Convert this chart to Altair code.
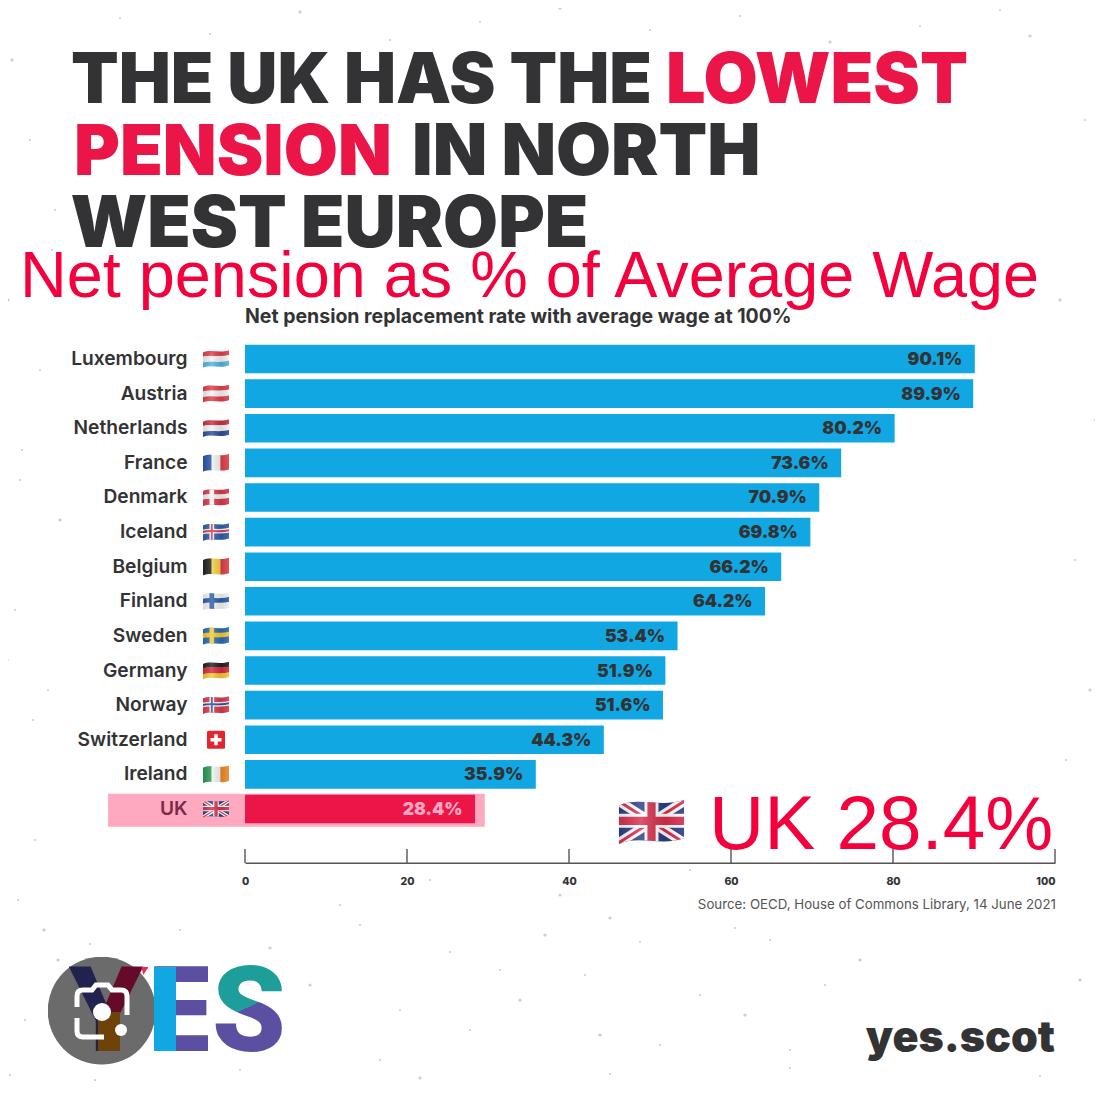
import base64
import altair as alt
import pandas as pd

countries = ["Luxembourg", "Austria", "Netherlands", "France", "Denmark", "Iceland", "Belgium",
             "Finland", "Sweden", "Germany", "Norway", "Switzerland", "Ireland", "UK"]
values = [90.1, 89.9, 80.2, 73.6, 70.9, 69.8, 66.2, 64.2, 53.4, 51.9, 51.6, 44.3, 35.9, 28.4]
x_ticks = [0, 20, 40, 60, 80, 100]
highlight_start = [-16.9]
highlight_end = [29.6]
speckle_x = [12, 30, 55, 8, 40, 22, 60, 15, 48, 5, 35, 18, 58, 25, 10, 44, 20, 52, 7, 33,
             95, 160, 240, 330, 420, 520, 610, 700, 790, 880, 960, 1040, 1085, 1060, 1095, 1075, 1090, 1066, 1098, 1080,
             120, 210, 300, 390, 480, 560, 650, 740, 830, 920, 1000, 1030, 90, 180, 270, 360, 450, 545, 640, 735,
             310, 400, 500, 600, 700, 790, 860, 380, 470, 520, 585, 660, 745, 825, 430, 560, 690, 340, 610, 770]
speckle_y = [60, 140, 210, 300, 370, 450, 520, 610, 690, 770, 840, 900, 960, 1020, 1075, 930, 480, 250, 660, 720,
             1080, 1088, 1070, 1084, 1078, 1090, 1074, 1086, 1068, 1082, 1092, 1076, 120, 300, 420, 560, 690, 760, 880, 980,
             18, 34, 12, 40, 22, 8, 30, 16, 42, 26, 10, 36, 944, 930, 948, 925, 952, 935, 942, 928,
             985, 1010, 970, 1035, 995, 1050, 960, 1060, 1030, 1000, 975, 1045, 1015, 985, 880, 895, 870, 905, 918, 940]

DARK = "#333336"
RED = "#ec1548"
BRIGHT = "#f4003c"
BLUE = "#10a7e2"
PINK = "#ffa9c1"
HEAD = "Inter"
BODY = "Inter"
OX, OY = 245.0, 341.7
W, H = 810, 484.6


def wave(y):
    return f"M-2,{y+3} C16,{y-5} 36,{y+5} 62,{y-3}"


SHADE = ('<defs><clipPath id="c"><path d="M2,7 C18,-1 38,9 58,2 L58,35 C38,42 18,32 2,40 Z"/></clipPath>'
         '<linearGradient id="g" x1="0" x2="1" y1="0" y2="0">'
         '<stop offset="0" stop-color="#000" stop-opacity=".12"/><stop offset=".35" stop-color="#fff" stop-opacity=".18"/>'
         '<stop offset=".7" stop-color="#000" stop-opacity=".10"/><stop offset="1" stop-color="#fff" stop-opacity=".12"/>'
         '</linearGradient></defs>')


def raw(s):
    return "data:image/svg+xml;base64," + base64.b64encode(s.encode()).decode()


def svg(body):
    return raw(f'<svg xmlns="http://www.w3.org/2000/svg" viewBox="0 0 60 42" width="240" height="168">{SHADE}'
               f'<g clip-path="url(#c)">{body}<rect width="60" height="42" fill="url(#g)"/></g></svg>')


def hflag(*cols):
    h = 38 / len(cols)
    return svg("".join(f'<path d="{wave(2 + h * (i + .5))}" fill="none" stroke="{c}" stroke-width="{h + .6}"/>'
                       for i, c in enumerate(cols)))


def vflag(*cols):
    w = 56 / len(cols)
    return svg("".join(f'<rect x="{2 + w * i}" y="0" width="{w + .3}" height="42" fill="{c}"/>'
                       for i, c in enumerate(cols)))


def nordic(bg, cross, inner=None):
    b = f'<rect width="60" height="42" fill="{bg}"/><rect x="16" width="10" height="42" fill="{cross}"/>'
    b += f'<path d="{wave(19)}" fill="none" stroke="{cross}" stroke-width="10"/>'
    if inner:
        b += f'<rect x="19" width="4" height="42" fill="{inner}"/><path d="{wave(19)}" fill="none" stroke="{inner}" stroke-width="4"/>'
    return svg(b)


UNION = svg('<rect width="60" height="42" fill="#2a3f86"/>'
            '<path d="M0,2 L60,40 M60,2 L0,40" stroke="#fff" stroke-width="8"/>'
            '<path d="M0,2 L60,40 M60,2 L0,40" stroke="#d8304f" stroke-width="2.6"/>'
            '<path d="M30,0 V42 M0,20 H60" stroke="#fff" stroke-width="12"/>'
            '<path d="M30,0 V42 M0,20 H60" stroke="#d8304f" stroke-width="7"/>')
SWISS = raw('<svg xmlns="http://www.w3.org/2000/svg" viewBox="0 0 40 40" width="160" height="160">'
            '<rect x="2" y="2" width="36" height="36" rx="3" fill="#e2262f"/>'
            '<path d="M20,9 V31 M9,20 H31" stroke="#fff" stroke-width="7"/></svg>')

flags = [hflag("#e0404a", "#f4f4f4", "#54b4e4"), hflag("#e0404a", "#f4f4f4", "#e0404a"),
         hflag("#c8323f", "#f4f4f4", "#2f4f9c"), vflag("#2a55a8", "#f4f4f4", "#e0404a"),
         nordic("#d83a4c", "#f4f4f4"), nordic("#2f5ea8", "#f4f4f4", "#d83a4c"),
         vflag("#222222", "#f6d040", "#e0404a"), nordic("#f4f4f4", "#2f5ea8"),
         nordic("#2a6cb0", "#f5c935"), hflag("#222222", "#d8283c", "#f6c830"),
         nordic("#d83a4c", "#f4f4f4", "#2f4f9c"), SWISS,
         vflag("#2a9a55", "#f4f4f4", "#ef8a2c"), UNION]

df = pd.DataFrame({"country": countries, "value": values, "flag": flags,
                   "label": [f"{v:.1f}%" for v in values]})
uk = df[df.country == "UK"].assign(start=highlight_start, end=highlight_end)

x_scale = alt.Scale(domain=[0, 100], nice=False)
x_axis = alt.Axis(values=x_ticks, offset=36.5, ticks=False, domainColor="#555555", domainWidth=1.6,
                  labelFont=BODY, labelFontSize=10.5, labelFontWeight=800, labelColor=DARK,
                  labelPadding=13.5, labelFlush=False, grid=False,
                  labelAlign=alt.condition("datum.value == 100", alt.value("right"), alt.value("center")))
y_axis = alt.Axis(domain=False, ticks=False, labelPadding=58, zindex=2,
                  labelFont=BODY, labelFontSize=19.2, labelFontWeight=600,
                  labelColor=alt.condition("datum.value == 'UK'", alt.value("#7a2a48"), alt.value(DARK)))


def X(f):
    return alt.X(f, title=None, scale=x_scale, axis=x_axis)


Y = alt.Y("country:N", sort=countries, title=None,
          scale=alt.Scale(paddingInner=0, paddingOuter=0), axis=y_axis)

pink = alt.Chart(uk).mark_bar(color=PINK, size=33, yOffset=1.2, clip=False).encode(
    x=X("start:Q"), x2="end:Q", y=Y)
bars = alt.Chart(df).mark_bar(size=28.6).encode(
    x=X("value:Q"), y=Y,
    color=alt.condition("datum.country == 'UK'", alt.value(RED), alt.value(BLUE)))
vals = alt.Chart(df).mark_text(align="right", dx=-12.5, dy=1, font=HEAD, fontSize=17.5, fontWeight=900).encode(
    x=X("value:Q"), y=Y, text="label:N",
    color=alt.condition("datum.country == 'UK'", alt.value(PINK), alt.value(DARK)))
flag_marks = alt.Chart(df).mark_image(width=28, height=20).encode(
    x=alt.value(216 - OX), y=Y, url="flag:N")
ticks = alt.Chart(pd.DataFrame({"tick": x_ticks})).mark_rule(color="#555555", strokeWidth=1.4).encode(
    x=X("tick:Q"), y=alt.value(849 - OY), y2=alt.value(863 - OY))


def text(t, px, py, size, color, font=BODY, weight=400, align="left"):
    return alt.Chart(pd.DataFrame({"t": [t]})).mark_text(
        align=align, baseline="alphabetic", font=font, fontSize=size, fontWeight=weight, color=color, clip=False
    ).encode(x=alt.value(px - OX), y=alt.value(py - OY), text="t:N")


def picture(url, cx, cy, w, h):
    return alt.Chart(pd.DataFrame({"u": [url]})).mark_image(width=w, height=h).encode(
        x=alt.value(cx - OX), y=alt.value(cy - OY), url="u:N")


def hard(c1, c2, off, x2=0, y2=1, x1=0, y1=0):
    return alt.LinearGradient(gradient="linear", x1=x1, y1=y1, x2=x2, y2=y2, stops=[
        alt.GradientStop(offset=0, color=c1), alt.GradientStop(offset=off, color=c1),
        alt.GradientStop(offset=off, color=c2), alt.GradientStop(offset=1, color=c2)])


def gtext(t, px, py, size, grad, font="Roboto"):
    return alt.Chart(pd.DataFrame({"t": [t]})).mark_text(
        align="left", baseline="alphabetic", font=font, fontSize=size, fontWeight=900, color=grad
    ).encode(x=alt.value(px - OX), y=alt.value(py - OY), text="t:N")


def box(x0, x1, y0, y1, color):
    return alt.Chart(pd.DataFrame({"a": [1]})).mark_rect(color=color).encode(
        x=alt.value(x0 - OX), x2=alt.value(x1 - OX), y=alt.value(y0 - OY), y2=alt.value(y1 - OY))


dots = "".join(f'<circle cx="{x}" cy="{y}" r="{1.1 if i % 3 else 1.6}" fill="#b8b8b8" opacity=".7"/>'
               for i, (x, y) in enumerate(zip(speckle_x, speckle_y)))
backdrop = picture(raw(f'<svg xmlns="http://www.w3.org/2000/svg" viewBox="0 0 1106 1095" width="1106" height="1095">{dots}</svg>'),
                   553, 547.5, 1106, 1095)

lens = picture(raw('<svg xmlns="http://www.w3.org/2000/svg" viewBox="0 0 108 108" width="216" height="216">'
                   '<circle cx="54" cy="54" r="54" fill="#6b6b6b"/></svg>'), 101.7, 1010.7, 108, 108)
icon = picture(raw('<svg xmlns="http://www.w3.org/2000/svg" viewBox="0 0 60 60" width="240" height="240">'
                   '<g fill="none" stroke="#fff" stroke-width="5" stroke-linecap="butt">'
                   '<path d="M5,26 V15 Q5,9 11,9 H20 L24,4 H36 L40,9 H49 Q55,9 55,15 V34"/>'
                   '<path d="M5,37 V50 Q5,56 11,56 H32"/></g>'
                   '<circle cx="30" cy="31" r="9" fill="#fff"/><circle cx="49" cy="49" r="6" fill="#fff"/></svg>'),
               102, 1011, 60, 60)
tip = picture(raw('<svg xmlns="http://www.w3.org/2000/svg" viewBox="0 0 20 12" width="80" height="48">'
                  '<path d="M9,0 H20 L12,12 Z" fill="#ee2a58"/></svg>'), 142, 971, 13, 8)

layers = [
    backdrop,
    pink, bars, vals, flag_marks, ticks,
    text("THE UK HAS THE", 71, 103, 69.5, DARK, HEAD, 900),
    text("LOWEST", 666, 103, 70, RED, HEAD, 900),
    text("PENSION", 74, 175, 70, RED, HEAD, 900),
    text("IN NORTH", 412, 175, 71, DARK, HEAD, 900),
    text("WEST EUROPE", 70.5, 247, 71, DARK, HEAD, 900),
    text("Net pension as % of Average Wage", 20, 297, 64.8, BRIGHT, "Liberation Sans"),
    text("Net pension replacement rate with average wage at 100%", 245, 323, 19.5, DARK, BODY, 700),
    text("UK 28.4%", 709, 849, 76.5, BRIGHT, "Liberation Sans"),
    picture(UNION, 651.5, 822, 70, 49),
    text("Source: OECD, House of Commons Library, 14 June 2021", 1056, 909, 13.3, "#555555", BODY, 400, "right"),
    lens,
    gtext("Y", 69, 1051, 118, hard("#22224e", "#650a28", .5, x2=1, y2=0)),
    box(98, 120, 1012, 1051, "#6f4208"),
    tip,
    gtext("E", 148, 1051, 118, "#5b4fa2"),
    box(154, 176, 967, 1051, BLUE),
    box(208, 216, 960, 1056, "#ffffff"),
    gtext("S", 212, 1051, 118, hard("#1e9e9a", "#5b4fa2", .56, x2=.25, y2=1)),
    icon,
    text("yes.scot", 1055, 1052, 43, DARK, HEAD, 900, "right"),
]

chart = alt.layer(*layers).resolve_scale(x="shared", y="shared").properties(
    width=W, height=H,
    padding={"left": OX - 8, "top": OY - 8, "right": 40, "bottom": 255},
    autosize=alt.AutoSizeParams(type="none"),
    background="white",
).configure_view(stroke=None)

chart.save("out.html", embed_options={"renderer": "svg", "actions": False})
